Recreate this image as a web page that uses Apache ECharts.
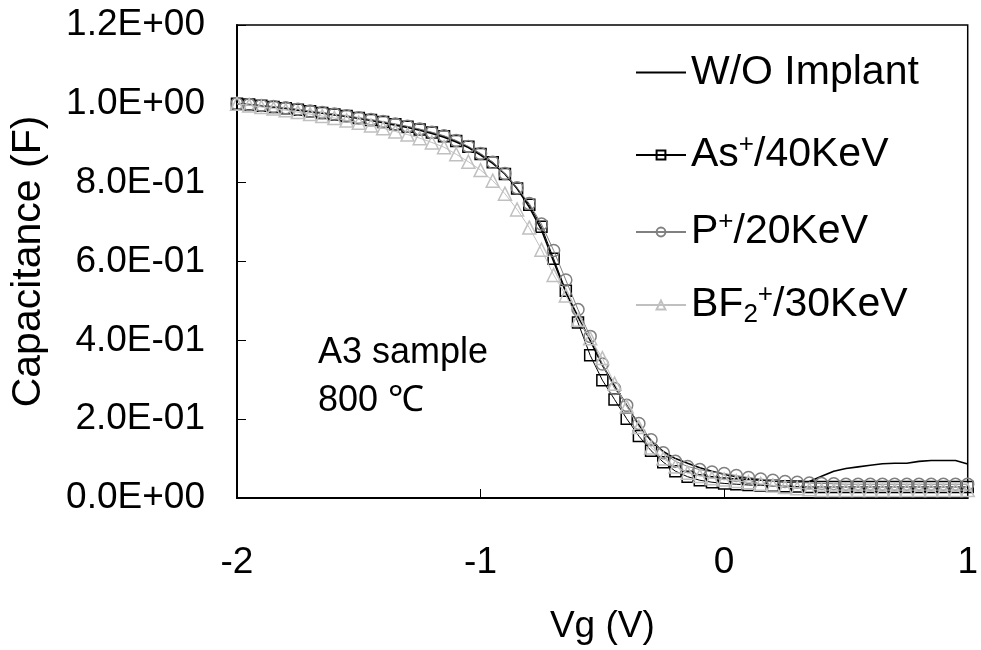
<!DOCTYPE html>
<html>
<head>
<meta charset="utf-8">
<script src="https://cdn.jsdelivr.net/npm/echarts@6/dist/echarts.min.js"></script>
<style>html,body{margin:0;padding:0;background:#fff;overflow:hidden}#c{position:absolute;left:0;top:0;width:981px;height:650px}</style>
</head>
<body>
<div id="c"></div>
<script>
var vg = [-2.00,-1.95,-1.90,-1.85,-1.80,-1.75,-1.70,-1.65,-1.60,-1.55,-1.50,-1.45,-1.40,-1.35,-1.30,-1.25,-1.20,-1.15,-1.10,-1.05,
 -1.00,-0.95,-0.90,-0.85,-0.80,-0.75,-0.70,-0.65,-0.60,-0.55,-0.50,-0.45,-0.40,-0.35,-0.30,-0.25,-0.20,-0.15,-0.10,-0.05,
 0.00,0.05,0.10,0.15,0.20,0.25,0.30,0.35,0.40,0.45,0.50,0.55,0.60,0.65,0.70,0.75,0.80,0.85,0.90,0.95,1.00];

var woImplant = [1.000,0.998,0.995,0.992,0.988,0.984,0.980,0.976,0.972,0.968,0.963,0.958,0.952,0.946,0.940,0.933,0.925,0.915,0.903,0.889,
 0.870,0.849,0.822,0.785,0.738,0.680,0.600,0.522,0.460,0.400,0.337,0.285,0.235,0.185,0.145,0.118,0.100,0.088,0.077,0.068,
 0.060,0.054,0.050,0.046,0.043,0.041,0.040,0.042,0.055,0.068,0.075,0.079,0.083,0.087,0.088,0.088,0.093,0.095,0.095,0.095,0.086];

var asImplant = [1.000,0.998,0.995,0.992,0.989,0.985,0.981,0.977,0.973,0.969,0.964,0.959,0.954,0.948,0.942,0.935,0.927,0.918,0.906,0.891,
 0.873,0.852,0.822,0.785,0.744,0.688,0.607,0.526,0.445,0.362,0.299,0.250,0.201,0.157,0.120,0.091,0.068,0.054,0.045,0.040,
 0.037,0.035,0.033,0.032,0.031,0.030,0.029,0.028,0.028,0.028,0.028,0.028,0.028,0.028,0.028,0.028,0.028,0.028,0.028,0.028,0.028];

var pImplant = [1.000,0.998,0.996,0.993,0.990,0.986,0.982,0.978,0.974,0.970,0.965,0.960,0.955,0.949,0.943,0.936,0.928,0.919,0.907,0.892,
 0.874,0.852,0.823,0.787,0.747,0.695,0.628,0.553,0.478,0.410,0.340,0.278,0.235,0.189,0.148,0.115,0.093,0.080,0.072,0.066,
 0.062,0.057,0.052,0.048,0.045,0.042,0.040,0.038,0.037,0.036,0.035,0.035,0.035,0.035,0.035,0.035,0.035,0.035,0.035,0.035,0.035];

var bf2Implant = [1.000,0.996,0.992,0.988,0.984,0.979,0.974,0.969,0.964,0.958,0.952,0.945,0.938,0.930,0.922,0.913,0.902,0.890,0.872,0.853,
 0.832,0.805,0.772,0.732,0.686,0.630,0.566,0.514,0.452,0.405,0.355,0.290,0.232,0.180,0.128,0.100,0.080,0.064,0.056,0.050,
 0.047,0.043,0.040,0.036,0.032,0.028,0.025,0.022,0.020,0.020,0.020,0.020,0.020,0.020,0.020,0.020,0.020,0.020,0.020,0.020,0.020];

var seriesNames = ['W/O Implant','As+/40KeV','P+/20KeV','BF2+/30KeV'];
var legendRich = {
  'W/O Implant': '{t|W/O Implant}',
  'As+/40KeV': '{t|As}{sup|+}{t|/40KeV}',
  'P+/20KeV': '{t|P}{sup|+}{t|/20KeV}',
  'BF2+/30KeV': '{t|BF}{sub|2}{sup|+}{t|/30KeV}'
};
var yTickLabels = ['0.0E+00','2.0E-01','4.0E-01','6.0E-01','8.0E-01','1.0E+00','1.2E+00'];
var xTickLabels = {'-2':'-2','-1':'-1','0':'0','1':'1'};

function pairs(ys){ return vg.map(function(x,i){ return [x, ys[i]]; }); }

var FONT = '"Liberation Sans", Arial, sans-serif';
var rich = {
  t: {fontSize: 41, fontFamily: FONT, color: '#000', lineHeight: 46},
  sup: {fontSize: 26, fontFamily: FONT, color: '#000', lineHeight: 28, verticalAlign: 'top'},
  sub: {fontSize: 26, fontFamily: FONT, color: '#000', lineHeight: 28, verticalAlign: 'bottom'}
};
function mkLegend(name, top, noSymbol){
  var l = {
    data: [name], left: 635, top: top, orient: 'vertical', padding: 0,
    itemWidth: 50, itemHeight: 11, selectedMode: false,
    formatter: function(n){ return legendRich[n]; },
    textStyle: {rich: rich, fontSize: 41, fontFamily: FONT, color: '#000'}
  };
  if (noSymbol) { l.itemStyle = {opacity: 0}; }
  return l;
}

var chart = echarts.init(document.getElementById('c'), null, {renderer: 'canvas', width: 981, height: 650});
chart.setOption({
  backgroundColor: '#fff',
  animation: false,
  grid: {left: 235, right: 7, top: 25, bottom: 148, show: true, borderColor: '#000', borderWidth: 1.5, containLabel: false},
  legend: [mkLegend(seriesNames[0], 52, true), mkLegend(seriesNames[1], 132), mkLegend(seriesNames[2], 209), mkLegend(seriesNames[3], 282)],
  xAxis: {
    type: 'value', min: -2, max: 1, interval: 1,
    name: 'Vg (V)', nameLocation: 'middle', nameGap: 110,
    nameTextStyle: {fontSize: 37, fontFamily: FONT, color: '#000'},
    axisLine: {show: true, onZero: false, lineStyle: {color: '#000', width: 2}},
    axisTick: {show: true, inside: true, length: 9, lineStyle: {color: '#000', width: 1}},
    axisLabel: {fontSize: 37, fontFamily: FONT, color: '#000', margin: 46,
      formatter: function(v){ return xTickLabels[String(Math.round(v))]; }},
    splitLine: {show: false}
  },
  yAxis: {
    type: 'value', min: 0, max: 1.2, interval: 0.2,
    name: 'Capacitance (F)', nameLocation: 'middle', nameGap: 188, nameRotate: 90,
    nameTextStyle: {fontSize: 41, fontFamily: FONT, color: '#000'},
    axisLine: {show: true, onZero: false, lineStyle: {color: '#000', width: 2}},
    axisTick: {show: true, inside: true, length: 9, lineStyle: {color: '#000', width: 1}},
    axisLabel: {fontSize: 37, fontFamily: FONT, color: '#000', margin: 32,
      formatter: function(v){ return yTickLabels[Math.round(v / 0.2)]; }},
    splitLine: {show: false}
  },
  graphic: [
    {type: 'text', left: 318, top: 335, style: {text: 'A3 sample', font: '36px ' + FONT, fill: '#000'}},
    {type: 'text', left: 318, top: 383, style: {text: '800 ℃', font: '36px ' + FONT, fill: '#000'}}
  ],
  series: [
    {name: seriesNames[0], type: 'line', data: pairs(woImplant), symbol: 'none', z: 2,
     lineStyle: {color: '#000', width: 1.6}, itemStyle: {color: '#000'}},
    {name: seriesNames[1], type: 'line', data: pairs(asImplant), symbol: 'rect', symbolSize: 11, z: 3,
     lineStyle: {color: '#000', width: 1}, itemStyle: {color: 'rgba(255,255,255,0)', borderColor: '#000', borderWidth: 1.5}},
    {name: seriesNames[2], type: 'line', data: pairs(pImplant), symbol: 'circle', symbolSize: 12, z: 4,
     lineStyle: {color: '#808080', width: 1}, itemStyle: {color: 'rgba(255,255,255,0)', borderColor: '#808080', borderWidth: 1.5}},
    {name: seriesNames[3], type: 'line', data: pairs(bf2Implant), symbol: 'triangle', symbolSize: 13, z: 5,
     lineStyle: {color: '#c0c0c0', width: 1}, itemStyle: {color: 'rgba(255,255,255,0)', borderColor: '#c0c0c0', borderWidth: 1.5}}
  ]
});
</script>
</body>
</html>
